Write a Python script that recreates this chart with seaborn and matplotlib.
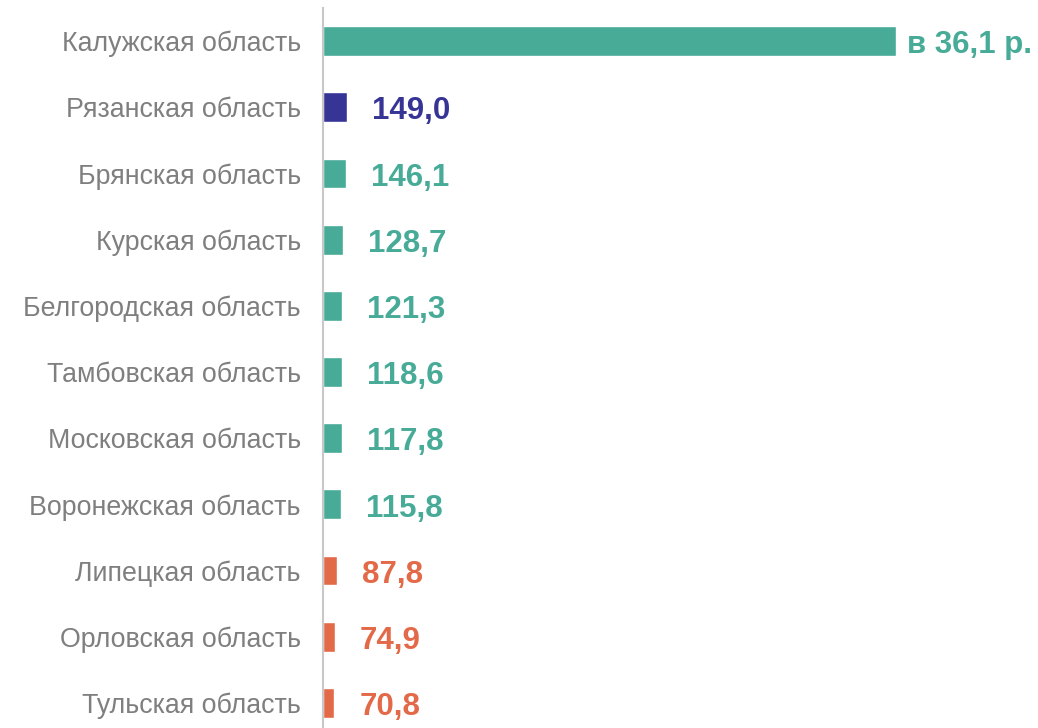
import matplotlib
matplotlib.use("Agg")
import matplotlib.pyplot as plt
import seaborn as sns
import pandas as pd

regions = ["Калужская область", "Рязанская область", "Брянская область", "Курская область",
           "Белгородская область", "Тамбовская область", "Московская область",
           "Воронежская область", "Липецкая область", "Орловская область", "Тульская область"]
values = [3610, 149.0, 146.1, 128.7, 121.3, 118.6, 117.8, 115.8, 87.8, 74.9, 70.8]
labels = ["в 36,1 р.", "149,0", "146,1", "128,7", "121,3", "118,6", "117,8", "115,8", "87,8", "74,9", "70,8"]

teal = "#47ab98"
blue = "#363596"
orange = "#e36a48"
colors = [teal, blue, teal, teal, teal, teal, teal, teal, orange, orange, orange]

df = pd.DataFrame({"region": regions, "value": values})

sns.set_style("white")
plt.rcParams["font.family"] = ["Liberation Sans", "DejaVu Sans"]

fig = plt.figure(figsize=(10.38, 7.28), dpi=100)
ax = fig.add_axes([323 / 1038, -8 / 728, 715 / 1038, 728 / 728])
sns.barplot(data=df, y="region", x="value", hue="region", palette=colors,
            orient="h", width=0.45, legend=False, ax=ax, saturation=1)

ax.set_xlim(0, 3610 * 715 / 573)
ax.set_ylim(10.5, -0.5)
ax.set_xlabel("")
ax.set_ylabel("")
ax.set_xticks([])
ax.tick_params(axis="y", length=0, pad=16, labelsize=19.3, labelcolor="#7f7f7f")
for s in ["top", "right", "bottom"]:
    ax.spines[s].set_visible(False)
ax.spines["left"].set_color("#c8c8c8")
ax.spines["left"].set_linewidth(1.5)

for i, (v, lab, c) in enumerate(zip(values, labels, colors)):
    off = 8 if i == 0 else 18
    ax.annotate(lab, (v, i), xytext=(off, -3), textcoords="offset points",
                va="center", ha="left", fontsize=22.5, fontweight="bold", color=c)

fig.savefig("out.png", dpi=100)
